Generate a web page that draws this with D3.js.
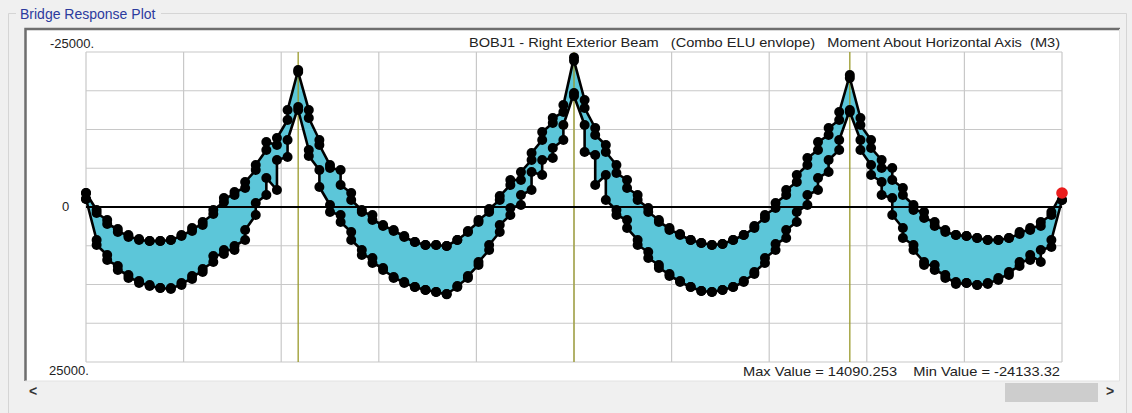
<!DOCTYPE html>
<html>
<head>
<meta charset="utf-8">
<script src="https://cdn.jsdelivr.net/npm/d3@7"></script>
<style>
  html, body { margin: 0; padding: 0; background: #f0f0f0; }
  svg { display: block; font-family: "Liberation Sans", Arial, sans-serif; }
</style>
</head>
<body>
<svg id="chart" width="1132" height="413"></svg>
<script>
// stations along the girder (m); spans 30 / 39 / 39 / 30
const stations = [
  0, 1.5, 3, 4.5, 6, 7.5, 9, 10.5, 12, 13.5, 15, 16.5, 18, 19.5, 21, 22.5, 24, 25.5, 27, 28.5, 30,
  31.5, 33, 34.5, 36, 37.5, 39, 40.5, 42, 43.5, 45, 46.5, 48, 49.5, 51, 52.5, 54, 55.5, 57, 58.5, 60, 61.5, 63, 64.5, 66, 67.5, 69,
  70.5, 72, 73.5, 75, 76.5, 78, 79.5, 81, 82.5, 84, 85.5, 87, 88.5, 90, 91.5, 93, 94.5, 96, 97.5, 99, 100.5, 102, 103.5, 105, 106.5, 108,
  109.5, 111, 112.5, 114, 115.5, 117, 118.5, 120, 121.5, 123, 124.5, 126, 127.5, 129, 130.5, 132, 133.5, 135, 136.5, 138
];
const supports = [30, 69, 108];

// M3 envelope (kN-m), value just left / just right of each station
const minLeft = [
  -2260, 480, 2100, 3550, 4520, 5160, 5480, 5480, 5320, 4680, 3870, 2900, 1130, -810, -1940, -3060, -5970, -9190, -10000, -14030, -22100,
  -15650, -10810, -6770, -5970, -2260, 480, 1290, 2900, 3710, 4680, 5650, 6130, 6130, 6290, 5320, 4030, 2420, 810, -1130, -3550, -4350, -7580, -10810, -13550, -15320, -24133,
  -17260, -12740, -10000, -6770, -4350, -1940, 160, 2100, 3390, 4350, 5320, 5810, 6130, 5970, 5320, 4520, 3390, 1770, 160, -1940, -4030, -6770, -9190, -11610, -14030, -21290,
  -14350, -10810, -7580, -6290, -3060, -320, 810, 2420, 3710, 4520, 4680, 5000, 5320, 5320, 5000, 4350, 3710, 3060, 1290, -2260
];
const minRight = [
  -2260, 970, 2740, 4030, 4840, 5320, 5480, 5480, 5320, 4520, 3390, 2420, 480, -1450, -2420, -4030, -6770, -10480, -11130, -15650, -21770,
  -14350, -10000, -6290, -3550, -1130, 810, 2100, 3060, 3870, 4840, 5650, 6130, 6130, 6290, 5320, 3870, 2100, 320, -1770, -4350, -5650, -8710, -12100, -14350, -16450, -23600,
  -15970, -11610, -8870, -5480, -3060, -1130, 810, 2420, 3710, 4520, 5320, 5810, 6130, 5970, 5320, 4520, 3060, 1290, -650, -2740, -5160, -7900, -10480, -12740, -15320, -20810,
  -13230, -9520, -6290, -4350, -1940, 480, 1770, 3060, 4030, 4520, 4680, 5000, 5320, 5320, 5000, 4030, 3390, 2420, 810, -2260
];
const maxLeft = [
  -1290, 5320, 7740, 9520, 10970, 11940, 12580, 13060, 13230, 12580, 11610, 10480, 8870, 7580, 6940, 5320, 1290, -1940, -2740, -8060, -16130,
  -9190, -5970, -320, 1290, 4030, 6940, 8230, 9840, 11290, 12100, 12900, 13390, 13710, 14090, 12900, 11450, 9350, 6940, 4030, 1290, -320, -2740, -5160, -7900, -10810, -18390,
  -13230, -8390, -5160, 480, 2100, 5320, 7260, 9350, 10810, 11940, 12900, 13550, 13710, 13390, 12900, 12100, 10810, 9030, 6940, 5000, 2420, -320, -2740, -5650, -9190, -15650,
  -10810, -6770, -4030, -1450, 3390, 6130, 8870, 9350, 10970, 12100, 12260, 12580, 12420, 11770, 10970, 9520, 8550, 8870, 6450, -1130
];
const maxRight = [
  -1290, 6130, 8550, 10160, 11450, 12260, 12740, 13060, 13060, 12260, 11130, 10000, 7900, 6940, 6290, 3710, -650, -4680, -7580, -10810, -15650,
  -8230, -3230, 810, 2420, 5320, 7740, 9030, 10160, 11450, 12260, 12900, 13390, 13710, 14030, 12740, 11130, 8870, 6130, 2900, 160, -1940, -5650, -7580, -9520, -13230, -17900,
  -8870, -3550, -1130, 1290, 3390, 6130, 8230, 9840, 11130, 12100, 12900, 13550, 13710, 13390, 12900, 11940, 10480, 8230, 5970, 3710, 810, -1940, -4680, -7580, -10810, -15320,
  -9190, -5160, -1940, 1290, 5000, 6940, 9350, 10160, 11450, 12420, 12260, 12580, 12260, 11450, 10480, 8870, 7740, 6940, 5320, -1130
];

const yLabels = ['-25000.', '0', '25000.'];
const chartTitle = 'BOBJ1 - Right Exterior Beam   (Combo ELU envlope)   Moment About Horizontal Axis  (M3)';
const footer = 'Max Value = 14090.253    Min Value = -24133.32';

const svg = d3.select('#chart');

// window frame
svg.append('rect').attr('width', 1132).attr('height', 413).attr('fill', '#f0f0f0');
svg.append('path')
  .attr('d', 'M8.5,413 V13.5 H16 M161,13.5 H1126.5 V413')
  .attr('fill', 'none').attr('stroke', '#d5d5d5');
svg.append('text').attr('x', 20).attr('y', 19).text('Bridge Response Plot')
  .attr('fill', '#2c3a9e').style('font-size', '14px');

// white plot panel
svg.append('rect').attr('x', 25).attr('y', 28).attr('width', 1095).attr('height', 353).attr('fill', '#fff');
svg.append('path').attr('d', 'M25.5,381 V29 H1120').attr('fill', 'none').attr('stroke', '#6e6e6e').attr('stroke-width', 2.5);
svg.append('path').attr('d', 'M1119.5,29 V381 H25').attr('fill', 'none').attr('stroke', '#e2e2e2');

// scrollbar
svg.append('rect').attr('x', 1005).attr('y', 383).attr('width', 93).attr('height', 19).attr('fill', '#cdcdcd');
svg.append('text').attr('x', 29).attr('y', 396).text('<').attr('fill', '#333').style('font-size', '14px').style('font-weight', 'bold');
svg.append('text').attr('x', 1106).attr('y', 396).text('>').attr('fill', '#333').style('font-size', '14px').style('font-weight', 'bold');

const x = d3.scaleLinear().domain([0, 138]).range([86, 1062]);
const y = d3.scaleLinear().domain([-25000, 25000]).range([52, 362]);

// grid
const g = svg.append('g');
g.selectAll('.vg').data(d3.range(11).map(i => i * 13.8)).enter().append('line')
  .attr('x1', d => x(d)).attr('x2', d => x(d)).attr('y1', y(-25000)).attr('y2', y(25000))
  .attr('stroke', '#c8c8c8').attr('stroke-width', 1.2);
g.selectAll('.hg').data(d3.range(9).map(i => -25000 + i * 6250)).enter().append('line')
  .attr('x1', x(0)).attr('x2', x(138)).attr('y1', d => y(d)).attr('y2', d => y(d))
  .attr('stroke', '#c8c8c8').attr('stroke-width', 1.2);

// envelope points, two per station
const pts = (a, b) => stations.flatMap((s, i) => [[s, a[i]], [s, b[i]]]);
const minPts = pts(minLeft, minRight);
const maxPts = pts(maxLeft, maxRight);

const area = d3.area()
  .x(d => x(d[0]))
  .y0((d, i) => y(maxPts[i][1]))
  .y1(d => y(d[1]));
g.append('path').datum(minPts).attr('d', area).attr('fill', '#5cc6d9');

// supports
g.selectAll('.sup').data(supports).enter().append('line')
  .attr('x1', d => x(d)).attr('x2', d => x(d)).attr('y1', y(-25000)).attr('y2', y(25000))
  .attr('stroke', '#9a9a2a').attr('stroke-width', 1.3);

// zero line
g.append('line').attr('x1', x(0)).attr('x2', x(138)).attr('y1', y(0)).attr('y2', y(0))
  .attr('stroke', '#000').attr('stroke-width', 2.2);

const line = d3.line().x(d => x(d[0])).y(d => y(d[1]));
[minPts, maxPts].forEach(p => {
  g.append('path').datum(p).attr('d', line)
    .attr('fill', 'none').attr('stroke', '#000').attr('stroke-width', 2.6).attr('stroke-linejoin', 'round');
  g.selectAll(null).data(p).enter().append('circle')
    .attr('cx', d => x(d[0])).attr('cy', d => y(d[1])).attr('r', 5).attr('fill', '#000');
});

// selected point
const last = minPts[minPts.length - 1];
g.append('circle').attr('cx', x(last[0])).attr('cy', y(last[1])).attr('r', 5.8).attr('fill', '#ea1c1c');

// labels
const txt = svg.append('g').attr('fill', '#222').style('font-size', '13px');
txt.append('text').attr('x', 50).attr('y', 48).text(yLabels[0]);
txt.append('text').attr('x', 62).attr('y', 211).text(yLabels[1]);
txt.append('text').attr('x', 49).attr('y', 375).text(yLabels[2]);
txt.append('text').attr('x', 469).attr('y', 47).text(chartTitle)
  .style('white-space', 'pre').attr('textLength', 591).attr('lengthAdjust', 'spacingAndGlyphs');
txt.append('text').attr('x', 743).attr('y', 376).text(footer)
  .style('white-space', 'pre').attr('textLength', 317).attr('lengthAdjust', 'spacingAndGlyphs');
</script>
</body>
</html>
